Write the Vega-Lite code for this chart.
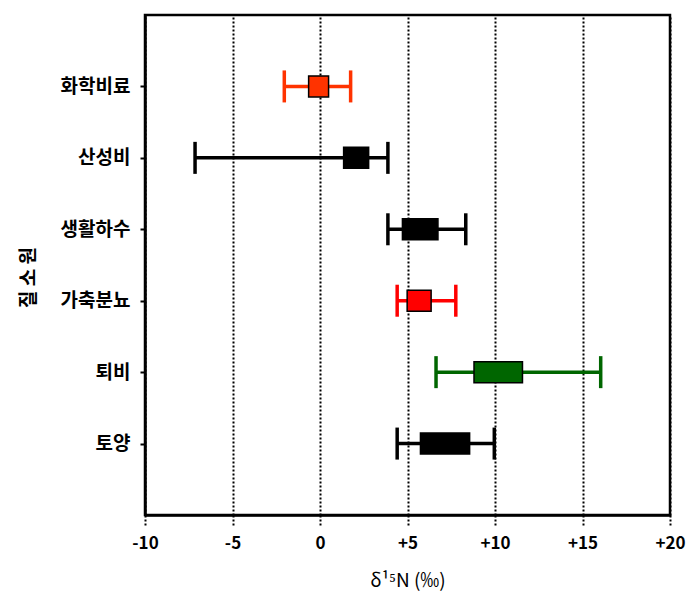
{
  "$schema": "https://vega.github.io/schema/vega-lite/v6.json",
  "width": 525,
  "height": 500,
  "autosize": {"type": "none"},
  "padding": {"left": 145, "top": 15, "right": 23, "bottom": 82},
  "background": "white",
  "config": {
    "view": {"stroke": "black", "strokeWidth": 2.5},
    "font": "Noto Sans CJK KR"
  },
  "data": {
    "values": [
      {"source": "화학비료", "lo": -2.04, "hi": 1.75, "boxlo": -0.65, "boxhi": 0.49},
      {"source": "산성비", "lo": -7.14, "hi": 3.88, "boxlo": 1.35, "boxhi": 2.78},
      {"source": "생활하수", "lo": 3.88, "hi": 8.33, "boxlo": 4.71, "boxhi": 6.74},
      {"source": "가축분뇨", "lo": 4.41, "hi": 7.76, "boxlo": 4.98, "boxhi": 6.35},
      {"source": "퇴비", "lo": 6.63, "hi": 16.04, "boxlo": 8.8, "boxhi": 11.57},
      {"source": "토양", "lo": 4.41, "hi": 9.96, "boxlo": 5.74, "boxhi": 8.55}
    ]
  },
  "encoding": {
    "y": {
      "field": "source",
      "type": "nominal",
      "sort": ["화학비료", "산성비", "생활하수", "가축분뇨", "퇴비", "토양"],
      "scale": {"type": "point", "padding": 1},
      "axis": {
        "title": "질 소 원",
        "titleFont": "Noto Sans CJK KR",
        "titleFontSize": 19,
        "titleFontWeight": "bold",
        "titleColor": "black",
        "titleX": -117,
        "titleY": 262,
        "titleAngle": -90,
        "titleAlign": "center",
        "titleBaseline": "middle",
        "labelFont": "Noto Sans CJK KR",
        "labelFontSize": 19,
        "labelFontWeight": "bold",
        "labelColor": "black",
        "labelPadding": 10,
        "tickSize": 5,
        "tickWidth": 2,
        "tickColor": "black",
        "domainColor": "black",
        "domainWidth": 2.5,
        "grid": false
      }
    },
    "color": {
      "field": "source",
      "type": "nominal",
      "scale": {
        "domain": ["화학비료", "산성비", "생활하수", "가축분뇨", "퇴비", "토양"],
        "range": ["#FF3300", "#000000", "#000000", "#FF0000", "#006600", "#000000"]
      },
      "legend": null
    }
  },
  "layer": [
    {
      "mark": {"type": "rule", "strokeWidth": 3.5},
      "encoding": {
        "x": {
          "field": "lo",
          "type": "quantitative",
          "scale": {"domain": [-10, 20], "nice": false, "zero": false},
          "axis": {
            "title": "δ¹⁵N (‰)",
            "titleFont": "Noto Sans CJK KR",
            "titleFontSize": 19,
            "titleFontWeight": "normal",
            "titleColor": "black",
            "titlePadding": 20,
            "values": [-10, -5, 0, 5, 10, 15, 20],
            "labelExpr": "datum.value > 0 ? '+' + datum.value : '' + datum.value",
            "labelFlush": false,
            "labelOverlap": false,
            "labelFont": "Noto Sans CJK KR",
            "labelFontSize": 17,
            "labelFontWeight": "bold",
            "labelColor": "black",
            "labelPadding": 10,
            "tickSize": 10,
            "tickWidth": 2,
            "tickDash": [2, 2],
            "tickColor": "black",
            "domainColor": "black",
            "domainWidth": 2.5,
            "grid": true,
            "gridColor": "black",
            "gridWidth": 2,
            "gridDash": [2, 2],
            "gridOpacity": 1
          }
        },
        "x2": {"field": "hi"}
      }
    },
    {
      "mark": {"type": "tick", "size": 32, "thickness": 3.5, "opacity": 1},
      "encoding": {"x": {"field": "lo", "type": "quantitative"}}
    },
    {
      "mark": {"type": "tick", "size": 32, "thickness": 3.5, "opacity": 1},
      "encoding": {"x": {"field": "hi", "type": "quantitative"}}
    },
    {
      "mark": {"type": "bar", "size": 21, "stroke": "black", "strokeWidth": 1.5, "opacity": 1},
      "encoding": {
        "x": {"field": "boxlo", "type": "quantitative"},
        "x2": {"field": "boxhi"}
      }
    }
  ]
}
